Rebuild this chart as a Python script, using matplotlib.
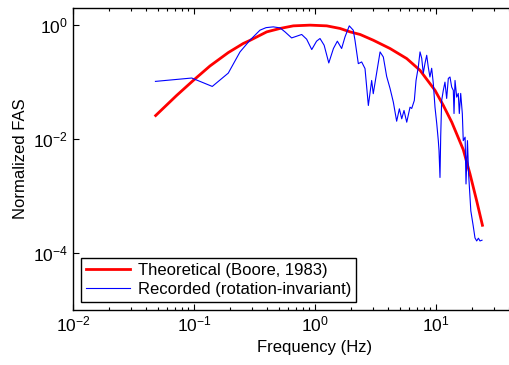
import matplotlib
matplotlib.use("Agg")
import matplotlib.pyplot as plt
from matplotlib.ticker import LogLocator, NullLocator

plt.rcParams['font.family'] = ['Liberation Sans', 'DejaVu Sans']
plt.rcParams['mathtext.fontset'] = 'custom'
plt.rcParams['mathtext.rm'] = 'Liberation Sans'
plt.rcParams['mathtext.it'] = 'Liberation Sans:italic'
plt.rcParams['mathtext.bf'] = 'Liberation Sans:bold'

# Theoretical (Boore, 1983) spectrum
theo_freq = [0.0482, 0.0719, 0.0986, 0.1355, 0.192, 0.255, 0.290, 0.399, 0.514,
             0.662, 0.910, 1.25, 1.61, 1.95, 2.36, 3.03, 4.17, 5.73, 7.38, 9.82,
             11.5, 13.5, 16.8, 19.1, 21.7, 24.2]
theo_amp = [0.0259, 0.0584, 0.107, 0.192, 0.330, 0.476, 0.540, 0.762, 0.875,
            0.972, 1.0, 0.972, 0.875, 0.762, 0.686, 0.544, 0.389, 0.259, 0.161,
            0.0716, 0.0389, 0.0198, 0.00653, 0.00244, 0.00082, 0.000307]

# Recorded (rotation-invariant) spectrum
rec_freq = [0.048, 0.0958, 0.1416, 0.192, 0.240, 0.290, 0.351, 0.394, 0.452, 0.514,
            0.565, 0.641, 0.706, 0.776, 0.853, 0.940, 1.03, 1.10, 1.19, 1.30,
            1.42, 1.53, 1.66, 1.77, 1.92, 2.07, 2.14, 2.28, 2.43, 2.59,
            2.76, 2.94, 3.03, 3.24, 3.45, 3.67, 3.91, 4.17, 4.44, 4.73,
            4.98, 5.21, 5.44, 5.73, 6.10, 6.30, 6.62, 6.84, 7.14, 7.38,
            7.62, 7.85, 8.11, 8.38, 8.63, 8.91, 9.21, 9.50, 9.81, 10.14,
            10.45, 10.59, 10.79, 10.94, 11.14, 11.49, 11.86, 12.25, 12.64, 13.05,
            13.48, 13.9, 14.09, 14.36, 14.83, 15.28, 15.58, 16.0, 16.5, 16.8,
            17.4, 17.7, 18.2, 18.6, 19.4, 20.3, 21.0, 21.7, 22.4, 23.1, 24.0]
rec_amp = [0.103, 0.118, 0.084, 0.144, 0.339, 0.544, 0.816, 0.904, 0.933, 0.896,
           0.762, 0.597, 0.640, 0.686, 0.567, 0.373, 0.523, 0.583, 0.444, 0.217,
           0.389, 0.523, 0.389, 0.622, 0.972, 0.816, 0.544, 0.211, 0.226, 0.173,
           0.0389, 0.107, 0.0626, 0.150, 0.339, 0.276, 0.126, 0.0776, 0.0445, 0.0206,
           0.0340, 0.0227, 0.0318, 0.0198, 0.0363, 0.0345, 0.0477, 0.107, 0.184, 0.339,
           0.262, 0.143, 0.214, 0.296, 0.184, 0.123, 0.175, 0.095, 0.0363, 0.0188,
           0.0094, 0.00627, 0.00212, 0.0115, 0.0477, 0.0716, 0.100, 0.0517, 0.116, 0.123,
           0.0818, 0.0716, 0.0281, 0.107, 0.0545, 0.0634, 0.0281, 0.0634, 0.0281, 0.0094,
           0.0108, 0.00163, 0.0094, 0.00244, 0.00055, 0.00030, 0.000184, 0.000163, 0.000182,
           0.000163, 0.000168]

labels = ['Theoretical (Boore, 1983)', 'Recorded (rotation-invariant)']

fig = plt.figure(figsize=(5.10, 3.65), dpi=100)
ax = fig.add_axes([73/510, 55/365, 484/510, 302/365])

ax.plot(theo_freq, theo_amp, color='#ff0000', lw=2.0, label=labels[0])
ax.plot(rec_freq, rec_amp, color='#0000ff', lw=0.8, label=labels[1])

ax.set_xscale('log')
ax.set_yscale('log')
ax.set_xlim(1e-2, 1e2)
ax.set_ylim(1e-5, 2)
ax.set_xticks([1e-2, 1e-1, 1e0, 1e1])
ax.xaxis.set_minor_locator(LogLocator(base=10, subs=range(2, 10)))
ax.set_yticks([1e-4, 1e-2, 1e0])
ax.yaxis.set_minor_locator(NullLocator())

ax.tick_params(which='both', direction='in', top=True, right=True, labelsize=12.5)
ax.tick_params(which='major', length=4, width=0.8)
ax.tick_params(which='minor', length=2.5, width=0.8)
for s in ax.spines.values():
    s.set_linewidth(1.0)

ax.set_xlabel('Frequency (Hz)', fontsize=12)
ax.set_ylabel('Normalized FAS', fontsize=12)

leg = ax.legend(loc='lower left', fontsize=12, frameon=True, fancybox=False,
                edgecolor='black', framealpha=1, handlelength=2.6,
                borderpad=0.3, labelspacing=0.25, handletextpad=0.5,
                bbox_to_anchor=(0.0, 0.0))
leg.get_frame().set_linewidth(1.0)

fig.savefig('out.png', dpi=100)
